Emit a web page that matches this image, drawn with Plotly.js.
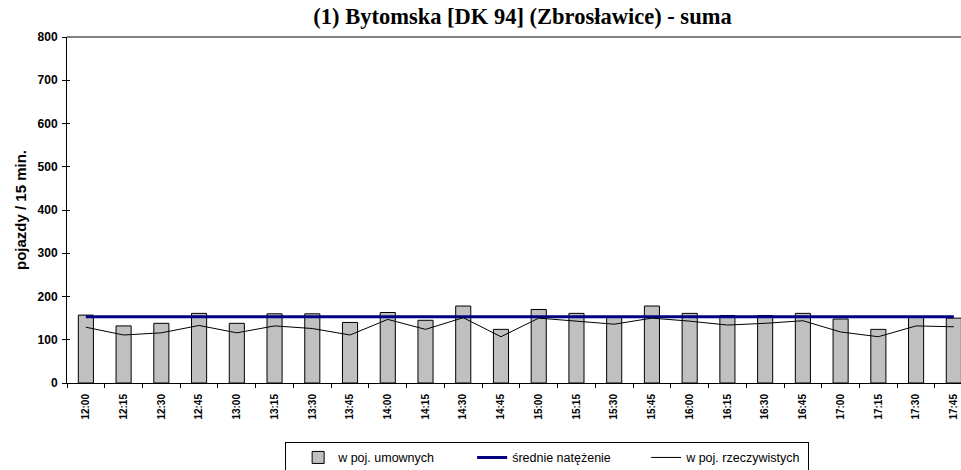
<!DOCTYPE html>
<html>
<head>
<meta charset="utf-8">
<script src="https://cdn.plot.ly/plotly-3.0.1.min.js"></script>
<style>
html,body{margin:0;padding:0;background:#fff;overflow:hidden;}
#wrap{width:961px;height:470px;overflow:hidden;}
#chart{width:961px;height:476px;}
</style>
</head>
<body>
<div id="wrap"><div id="chart"></div></div>
<script>
var categories = ["12:00","12:15","12:30","12:45","13:00","13:15","13:30","13:45","14:00","14:15","14:30","14:45",
                  "15:00","15:15","15:30","15:45","16:00","16:15","16:30","16:45","17:00","17:15","17:30","17:45"];
var umownych = [157,132,138,161,138,160,160,140,163,145,178,124,
                170,161,153,178,161,156,156,161,148,124,153,150];
var rzeczywistych = [129,111,116,133,116,132,126,111,147,124,151,107,
                     150,143,136,150,143,134,138,144,118,107,132,130];
var meanValue = 153;
var meanSeries = categories.map(function(){ return meanValue; });
var yTicks = [0,100,200,300,400,500,600,700,800];

var traces = [
  {type:'bar', x:categories, y:umownych, name:'w poj. umownych', width:0.4,
   marker:{color:'#C0C0C0', line:{color:'#000000', width:1}}},
  {type:'scatter', mode:'lines', x:categories, y:meanSeries, name:'średnie natężenie',
   line:{color:'#000080', width:3}},
  {type:'scatter', mode:'lines', x:categories, y:rzeczywistych, name:'w poj. rzeczywistych',
   line:{color:'#000000', width:1}}
];

var layout = {
  width:961, height:476,
  margin:{l:67, r:0, t:37, b:93, pad:0},
  paper_bgcolor:'#ffffff', plot_bgcolor:'#ffffff',
  showlegend:true,
  title:{text:'(1) Bytomska [DK 94] (Zbrosławice) - suma',
         font:{family:'Liberation Serif, Times New Roman, serif', size:22.5, weight:'bold', color:'#000'},
         xref:'container', x:0.5437, xanchor:'center',
         yref:'container', y:0.9496, yanchor:'bottom'},
  font:{family:'Liberation Sans, Arial, sans-serif', color:'#000'},
  xaxis:{type:'category', range:[-0.5, 23.19], showgrid:false, zeroline:false,
         showline:true, linecolor:'#000', linewidth:1,
         ticks:'outside', ticklen:4, tickcolor:'#000', tickson:'boundaries',
         tickangle:-90, tickfont:{size:10, weight:'bold', color:'#000'},
         ticklabelstandoff:6},
  yaxis:{range:[0,800], tickvals:yTicks, ticktext:yTicks.map(String), showgrid:false, zeroline:false,
         showline:true, linecolor:'#000', linewidth:1,
         ticks:'outside', ticklen:4, tickcolor:'#000',
         minor:{ticks:'inside', ticklen:3, dtick:100, tick0:0, tickcolor:'#000', showgrid:false},
         tickfont:{size:12, weight:'bold', color:'#000'}, ticklabelstandoff:2,
         title:{text:'pojazdy / 15 min.', font:{size:15, weight:'bold', color:'#000'}, standoff:7}},
  legend:{orientation:'h', x:0.244, xanchor:'left', y:-0.170, yanchor:'top',
          bordercolor:'#000', borderwidth:1, bgcolor:'#fff', indentation:12,
          font:{size:12.5, color:'#000'}, entrywidth:117, entrywidthmode:'pixels'},
  shapes:[{type:'line', xref:'paper', yref:'paper', x0:0, x1:1, y0:1, y1:1,
           line:{color:'#808080', width:2}}],
  bargap:0.6
};

Plotly.newPlot('chart', traces, layout, {displayModeBar:false, staticPlot:true});
</script>
</body>
</html>
